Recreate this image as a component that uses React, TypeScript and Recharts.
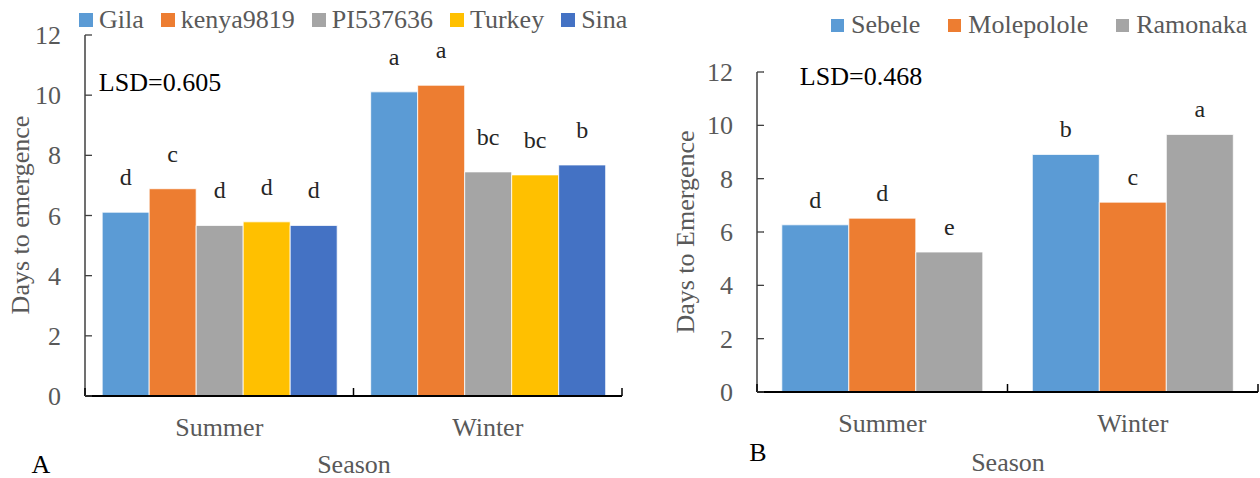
import { BarChart, Bar, XAxis, YAxis, LabelList } from "recharts";

const FONT = "Times New Roman, Liberation Serif, Tinos, DejaVu Serif, serif";

const seasons = ["Summer", "Winter"];
const yTicks = [0, 2, 4, 6, 8, 10, 12];

// panel A: genotypes
const genotypes = ["Gila", "kenya9819", "PI537636", "Turkey", "Sina"];
const genotypeColors = ["#5B9BD5", "#ED7D31", "#A5A5A5", "#FFC000", "#4472C4"];
const gilaDays = [6.11, 10.11];
const kenyaDays = [6.89, 10.33];
const piDays = [5.67, 7.45];
const turkeyDays = [5.79, 7.35];
const sinaDays = [5.67, 7.68];
const gilaLetters = ["d", "a"];
const kenyaLetters = ["c", "a"];
const piLetters = ["d", "bc"];
const turkeyLetters = ["d", "bc"];
const sinaLetters = ["d", "b"];

// panel B: locations
const locations = ["Sebele", "Molepolole", "Ramonaka"];
const locationColors = ["#5B9BD5", "#ED7D31", "#A5A5A5"];
const sebeleDays = [6.27, 8.91];
const molepololeDays = [6.52, 7.12];
const ramonakaDays = [5.25, 9.66];
const sebeleLetters = ["d", "b"];
const molepololeLetters = ["d", "c"];
const ramonakaLetters = ["e", "a"];

function buildRows(names: string[], values: number[][], letters: string[][]) {
  return seasons.map((season, i) => {
    const row: Record<string, string | number> = { season };
    names.forEach((n, k) => {
      row[n] = values[k][i];
      row[n + "_l"] = letters[k][i];
    });
    return row;
  });
}

const dataA = buildRows(
  genotypes,
  [gilaDays, kenyaDays, piDays, turkeyDays, sinaDays],
  [gilaLetters, kenyaLetters, piLetters, turkeyLetters, sinaLetters]
);
const dataB = buildRows(
  locations,
  [sebeleDays, molepololeDays, ramonakaDays],
  [sebeleLetters, molepololeLetters, ramonakaLetters]
);

function YTick({ x, y, payload }: any) {
  return (
    <g>
      <line x1={x} x2={x + 7} y1={y} y2={y} stroke="#404040" strokeWidth={1.3} />
      <text x={x - 24} y={y} dy="0.35em" textAnchor="end" fill="#595959" fontSize={26} style={{ fontFamily: FONT }}>
        {payload.value}
      </text>
    </g>
  );
}

function makeXTick(band: number) {
  return function XTick({ x, y, payload, index, visibleTicksCount }: any) {
    const left = x - band / 2;
    const right = x + band / 2;
    return (
      <g>
        <line x1={left} x2={left} y1={y} y2={y - 8} stroke="#000" strokeWidth={1.5} />
        {index === visibleTicksCount - 1 && (
          <line x1={right} x2={right} y1={y} y2={y - 8} stroke="#000" strokeWidth={1.5} />
        )}
        <text x={x} y={y + 31} dy="0.35em" textAnchor="middle" fill="#595959" fontSize={26} style={{ fontFamily: FONT }}>
          {payload.value}
        </text>
      </g>
    );
  };
}

const abs = (left: number, top: number, extra: any = {}) => ({
  position: "absolute" as const,
  left,
  top,
  transform: "translate(-50%, -50%)",
  whiteSpace: "nowrap" as const,
  lineHeight: 1,
  fontFamily: FONT,
  fontSize: 26,
  color: "#595959",
  ...extra,
});

function LegendRow({ names, colors, left, top, box, gap, itemGap }: any) {
  return (
    <div
      style={{
        position: "absolute",
        left,
        top,
        transform: "translateY(-50%)",
        display: "flex",
        alignItems: "center",
        fontFamily: FONT,
        fontSize: 26,
        lineHeight: 1,
        color: "#595959",
        whiteSpace: "nowrap",
      }}
    >
      {names.map((n: string, i: number) => (
        <div key={n} style={{ display: "flex", alignItems: "center", marginRight: itemGap }}>
          <span style={{ width: box, height: box, background: colors[i], marginRight: gap, display: "inline-block" }} />
          <span>{n}</span>
        </div>
      ))}
    </div>
  );
}

export default function App() {
  return (
    <div style={{ position: "absolute", left: 0, top: 0, width: 1260, height: 478, background: "#fff", fontFamily: FONT }}>
      {/* panel A */}
      <div style={{ position: "absolute", left: 0, top: 0 }}>
        <BarChart
          width={640}
          height={478}
          data={dataA}
          margin={{ top: 35, right: 18, left: 25, bottom: 52 }}
          barCategoryGap="6.4%"
          barGap={0}
          style={{ fontFamily: FONT }}
        >
          <XAxis
            dataKey="season"
            axisLine={{ stroke: "#000", strokeWidth: 2 }}
            tickLine={false}
            tickSize={0}
            tickMargin={0}
            tick={makeXTick(268.5)}
          />
          <YAxis
            width={60}
            domain={[0, 12]}
            ticks={yTicks}
            axisLine={{ stroke: "#404040", strokeWidth: 1.5 }}
            tickLine={false}
            tickSize={0}
            tickMargin={0}
            tick={<YTick />}
          />
          {genotypes.map((g, i) => (
            <Bar key={g} dataKey={g} fill={genotypeColors[i]} stroke="#fff" strokeWidth={0.8} isAnimationActive={false}>
              <LabelList dataKey={g + "_l"} position="top" offset={27} fill="#262626" fontSize={24} style={{ fontFamily: FONT }} />
            </Bar>
          ))}
        </BarChart>
      </div>
      <LegendRow names={genotypes} colors={genotypeColors} left={79} top={20} box={14} gap={6} itemGap={17} />
      <div style={abs(160, 83, { color: "#000" })}>LSD=0.605</div>
      <div style={abs(21, 215, { transform: "translate(-50%, -50%) rotate(-90deg)" })}>Days to emergence</div>
      <div style={abs(354, 465)}>Season</div>
      <div style={abs(41, 465, { color: "#000" })}>A</div>

      {/* panel B */}
      <div style={{ position: "absolute", left: 640, top: 0 }}>
        <BarChart
          width={620}
          height={478}
          data={dataB}
          margin={{ top: 72, right: 2, left: 57, bottom: 56 }}
          barCategoryGap="9.9%"
          barGap={0}
          style={{ fontFamily: FONT }}
        >
          <XAxis
            dataKey="season"
            axisLine={{ stroke: "#000", strokeWidth: 2 }}
            tickLine={false}
            tickSize={0}
            tickMargin={0}
            tick={makeXTick(250.5)}
          />
          <YAxis
            width={60}
            domain={[0, 12]}
            ticks={yTicks}
            axisLine={{ stroke: "#404040", strokeWidth: 1.5 }}
            tickLine={false}
            tickSize={0}
            tickMargin={0}
            tick={<YTick />}
          />
          {locations.map((l, i) => (
            <Bar key={l} dataKey={l} fill={locationColors[i]} stroke="#fff" strokeWidth={0.8} isAnimationActive={false}>
              <LabelList dataKey={l + "_l"} position="top" offset={17} fill="#262626" fontSize={24} style={{ fontFamily: FONT }} />
            </Bar>
          ))}
        </BarChart>
      </div>
      <LegendRow names={locations} colors={locationColors} left={831} top={25} box={13} gap={7} itemGap={28} />
      <div style={abs(861, 77, { color: "#000" })}>LSD=0.468</div>
      <div style={abs(686, 232, { transform: "translate(-50%, -50%) rotate(-90deg)" })}>Days to Emergence</div>
      <div style={abs(1008, 463)}>Season</div>
      <div style={abs(758, 453, { color: "#000" })}>B</div>
    </div>
  );
}
